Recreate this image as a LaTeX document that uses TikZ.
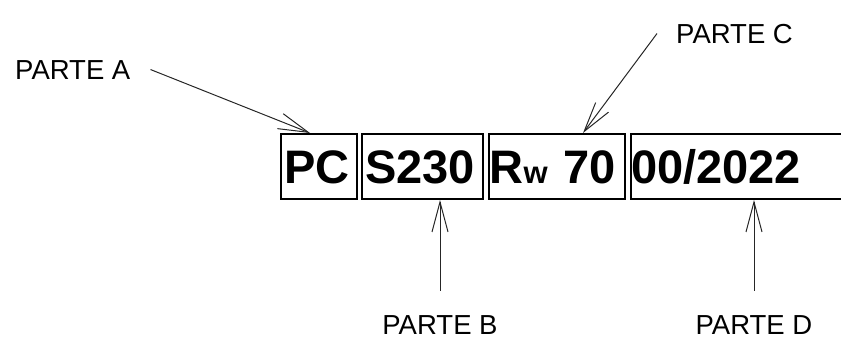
\documentclass[tikz,border=0pt]{standalone}
\usepackage{fontspec}
\setmainfont{Liberation Sans}
\usetikzlibrary{arrows.meta}
\tikzset{
  plate/.style={draw, line width=2pt, inner ysep=0pt, minimum height=65pt,
    align=left, text height=33.7pt, text depth=0pt,
    font=\fontsize{47}{50}\selectfont\bfseries},
  parte/.style={inner sep=0pt, font=\fontsize{27.5}{30}\selectfont},
  pointer/.style={line width=1pt, draw=black!85,
    -{Straight Barb[length=30pt,width=16pt]}}
}
\begin{document}
\begin{tikzpicture}[x=1pt,y=-1pt]
\useasboundingbox (0,0) rectangle (841,340);
\clip (0,0) rectangle (841,340);
% plates
\node[plate, text width=69.2pt, inner xsep=3.4pt] (pc) at (319,166.5) {PC};
\node[plate, text width=115pt, inner xsep=3pt] (s230) at (422.5,166.5) {S230};
\node[plate, text width=134.8pt, inner xsep=0.6pt] (rw) at (557,166.5) {R{\fontsize{31}{31}\selectfont w} 70};
\node[plate, text width=230pt, inner xsep=0pt] (dd) at (746,166.5) {00/2022};
% labels
\node[parte, anchor=base west] (la) at (15,79) {PARTE A};
\node[parte, anchor=base west] (lc) at (676,43) {PARTE C};
\node[parte, anchor=base] (lb) at (440,334) {PARTE B};
\node[parte, anchor=base] (ld) at (754,334) {PARTE D};
% pointers
\draw[pointer] ([xshift=20pt]la.east) -- ([xshift=30pt]pc.north west);
\draw[pointer] ([xshift=-19pt]lc.west) -- ([xshift=95pt]rw.north west);
\draw[pointer] ([yshift=24pt]lb.north) -- ([xshift=79pt]s230.south west);
\draw[pointer] ([yshift=24pt]ld.north) -- ([xshift=124pt]dd.south west);
\end{tikzpicture}
\end{document}
